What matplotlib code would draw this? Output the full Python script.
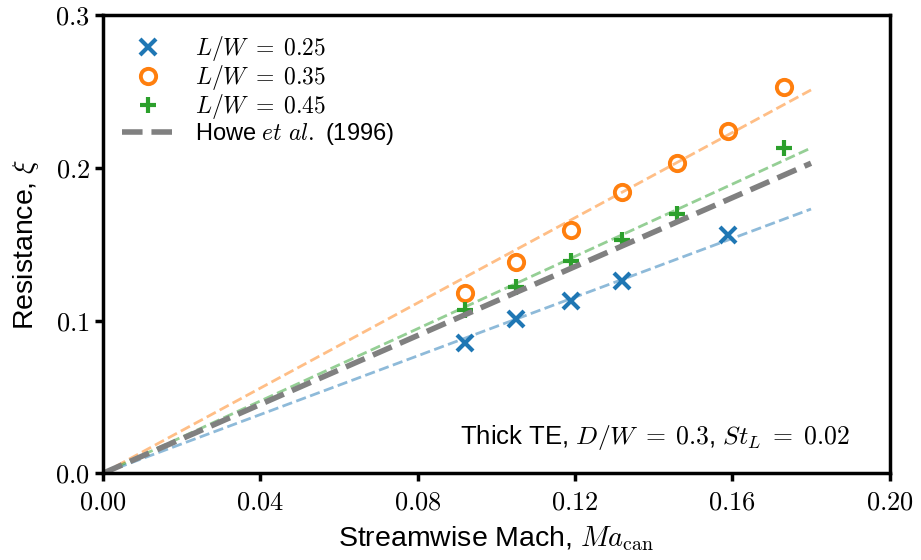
import matplotlib
matplotlib.use('Agg')
import matplotlib.pyplot as plt
from matplotlib.ticker import FormatStrFormatter

plt.rcParams['font.family'] = ['Liberation Sans', 'DejaVu Sans']
plt.rcParams['mathtext.fontset'] = 'cm'

# measured points (streamwise Mach, resistance)
mach_25 = [0.092, 0.105, 0.119, 0.132, 0.159]
xi_25 = [0.085, 0.101, 0.113, 0.126, 0.156]

mach_35 = [0.092, 0.105, 0.119, 0.132, 0.146, 0.159, 0.173]
xi_35 = [0.118, 0.138, 0.159, 0.184, 0.203, 0.224, 0.253]

mach_45 = [0.092, 0.105, 0.119, 0.132, 0.146, 0.173]
xi_45 = [0.107, 0.122, 0.139, 0.153, 0.170, 0.213]

# fitted lines (end points)
mach_fit = [0.0, 0.18]
fit_25 = [0.0, 0.173]
fit_35 = [0.0, 0.251]
fit_45 = [0.0, 0.213]
howe = [0.0, 0.203]

c1, c2, c3 = '#1f77b4', '#ff7f0e', '#2ca02c'

fig = plt.figure(figsize=(9.21, 5.6), dpi=100)
ax = fig.add_axes([0.112, 0.155, 0.854, 0.818])

ax.plot(mach_fit, fit_25, '--', color=c1, alpha=0.5, lw=2)
ax.plot(mach_fit, fit_35, '--', color=c2, alpha=0.5, lw=2)
ax.plot(mach_fit, fit_45, '--', color=c3, alpha=0.5, lw=2)

ax.plot(mach_25, xi_25, 'x', color=c1, ms=11, mew=3, ls='none', label=r'$L/W\;=\;0.25$')
ax.plot(mach_35, xi_35, 'o', color=c2, ms=11, mew=2.8, mfc='none', ls='none', label=r'$L/W\;=\;0.35$')
ax.plot(mach_45, xi_45, '+', color=c3, ms=11, mew=3, ls='none', label=r'$L/W\;=\;0.45$')
ax.plot(mach_fit, howe, '--', color='gray', lw=4, label=r'Howe $\mathit{et\ al.}$ (1996)')

ax.set_xlim(0, 0.2)
ax.set_ylim(0, 0.3)
ax.set_xticks([0, 0.04, 0.08, 0.12, 0.16, 0.20])
ax.set_yticks([0, 0.1, 0.2, 0.3])
ax.xaxis.set_major_formatter(FormatStrFormatter(r'$%.2f$'))
ax.yaxis.set_major_formatter(FormatStrFormatter(r'$%.1f$'))
ax.tick_params(labelsize=19, width=2.5, length=6)
ax.tick_params(axis='x', pad=6.5)
for s in ax.spines.values():
    s.set_linewidth(2.5)

ax.set_xlabel(r'Streamwise Mach, $Ma_{\mathrm{can}}$', fontsize=20.5, labelpad=7)
ax.set_ylabel(r'Resistance, $\xi$', fontsize=20.5, labelpad=10)

ax.text(0.949, 0.079, r'Thick TE, $D/W\;=\;0.3$, $St_L\;=\;0.02$', transform=ax.transAxes,
        ha='right', va='center', fontsize=18.5)

ax.legend(loc='upper left', frameon=False, fontsize=17, handlelength=2.2,
          borderaxespad=0.4, labelspacing=0.0, handletextpad=0.9)

fig.savefig('out.png', dpi=100)
